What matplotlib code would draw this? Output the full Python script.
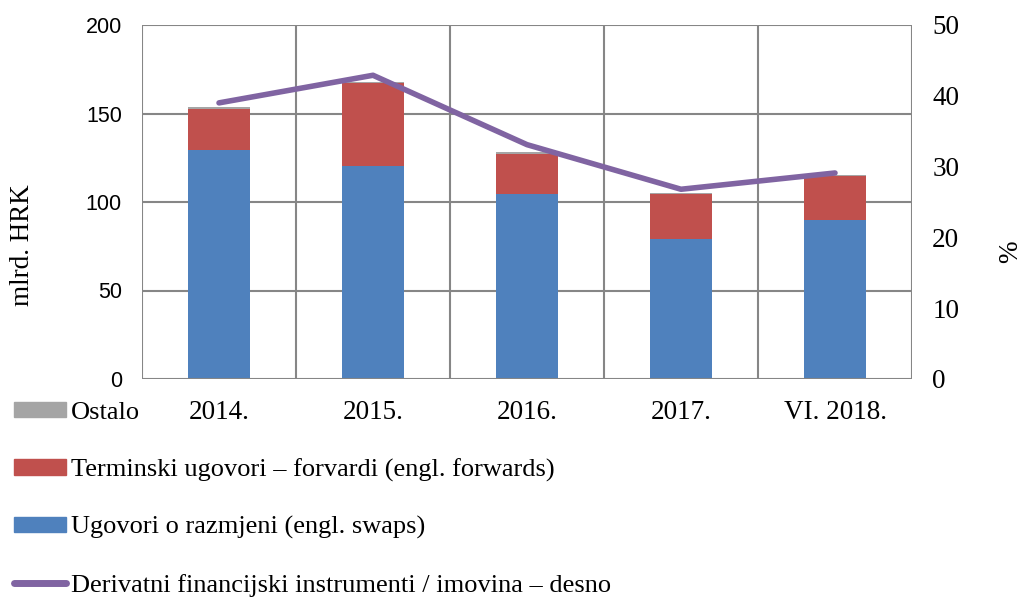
import numpy as np
import matplotlib.pyplot as plt
from matplotlib.patches import Patch
from matplotlib.lines import Line2D

# data
years = ['2014.', '2015.', '2016.', '2017.', 'VI. 2018.']
swaps = [129.1, 120.1, 104.5, 79.1, 90.1]
forwards = [23.7, 46.9, 22.9, 25.4, 24.6]
ostalo = [0.9, 0.8, 0.8, 0.4, 0.3]
share = [39.0, 42.9, 33.1, 26.8, 29.1]

blue = '#4F81BD'
red = '#C0504D'
gray = '#A5A5A5'
purple = '#8064A2'
gridc = '#868686'
serif = ['Liberation Serif', 'DejaVu Serif']
sans = ['Liberation Sans', 'DejaVu Sans']
fs = 19.5

fig = plt.figure(figsize=(10.25, 5.99), dpi=100)
ax = fig.add_axes([142/1025, 1-379/599, 770/1025, 354/599])
x = np.arange(len(years))
w = 0.4

swaps = np.array(swaps)
forwards = np.array(forwards)
ostalo = np.array(ostalo)
ax.bar(x, swaps, w, color=blue, zorder=3)
ax.bar(x, forwards, w, bottom=swaps, color=red, zorder=3)
ax.bar(x, ostalo, w, bottom=swaps+forwards, color=gray, zorder=3)

ax.set_xlim(-0.5, len(years)-0.5)
ax.set_ylim(0, 200)
ax.set_yticks([0, 50, 100, 150, 200])
ax.set_xticks(x)
ax.set_xticklabels(years, fontfamily=serif, fontsize=fs)
for lab in ax.get_yticklabels():
    lab.set_fontfamily(sans)
    lab.set_fontsize(15.5)
ax.tick_params(axis='y', length=0, pad=14.5)
ax.tick_params(axis='x', length=0, pad=15)
# vertical grid at category boundaries, horizontal at tick values
for b in np.arange(-0.5, len(years), 1.0):
    ax.axvline(b, color=gridc, lw=1.5, zorder=1)
for t in [50, 100, 150, 200]:
    ax.axhline(t, color=gridc, lw=1.5, zorder=1)
for s in ax.spines.values():
    s.set_visible(False)
ax.axhline(0, color=gridc, lw=1.5, zorder=4)
ax.set_ylabel('mlrd. HRK', fontfamily=serif, fontsize=fs)
ax.yaxis.set_label_coords(-0.139, 0.378)

ax2 = ax.twinx()
ax2.plot(x, share, color=purple, lw=4, solid_capstyle='round', zorder=5)
ax2.set_ylim(0, 50)
ax2.set_yticks([0, 10, 20, 30, 40, 50])
for lab in ax2.get_yticklabels():
    lab.set_fontfamily(serif)
    lab.set_fontsize(fs)
ax2.tick_params(axis='y', length=0, pad=14.5)
for s in ax2.spines.values():
    s.set_visible(False)
ax2.set_ylabel('%', fontfamily=serif, fontsize=fs)
ax2.yaxis.set_label_coords(1.112, 0.359)

handles = [
    Patch(color=gray, label='Ostalo'),
    Patch(color=red, label='Terminski ugovori – forvardi (engl. forwards)'),
    Patch(color=blue, label='Ugovori o razmjeni (engl. swaps)'),
    Line2D([], [], color=purple, lw=5, solid_capstyle='round',
           label='Derivatni financijski instrumenti / imovina – desno'),
]
fig.legend(handles=handles, loc='upper left', bbox_to_anchor=(14/1025, 1-401.5/599),
           frameon=False, prop={'family': serif, 'size': 19}, borderpad=0,
           borderaxespad=0, handlelength=1.97, handleheight=0.53,
           handletextpad=0.19, labelspacing=1.31)

fig.savefig('out.png', dpi=100)
